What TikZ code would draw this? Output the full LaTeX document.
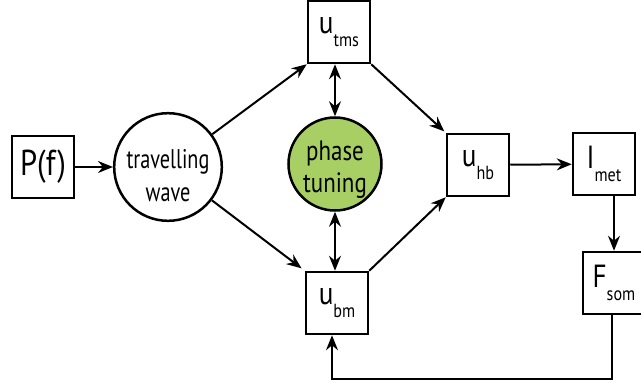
\documentclass[tikz,border=0pt]{standalone}
\usepackage{fontspec}
\setmainfont{PT Sans}[FakeStretch=0.85]
\newfontfamily\estrecha{PT Sans}[FakeStretch=0.75]
\newfontfamily\media{PT Sans}[FakeStretch=0.82]
\usetikzlibrary{arrows.meta}

\definecolor{verde}{RGB}{167,207,100}
\newcommand{\usub}[2]{#1\raisebox{-0.4em}{\fontsize{19}{19}\selectfont #2}}

\tikzset{
    caja/.style={draw, line width=2.5pt, minimum width=62pt, minimum height=62pt,
        inner sep=0pt, font=\fontsize{32}{32}\selectfont},
    circulo/.style={circle, draw, line width=2.5pt, minimum size=92pt, inner sep=0pt,
        align=center, font=\estrecha\fontsize{27}{33}\selectfont},
    punta/.tip={Stealth[length=15pt, width=12pt, inset=5pt]},
    flecha/.style={-punta, line width=2pt},
    doble/.style={punta-punta, line width=2pt},
}

\begin{document}
\begin{tikzpicture}[x=1pt, y=-1pt]
    \useasboundingbox (0,0) rectangle (641,383);

    % Nodos
    \node[caja, font=\fontsize{36}{36}\selectfont] (Pf) at (43,167) {P(f)};
    \node[circulo] (onda) at (168,167) {\rule{0pt}{36pt}travelling\\wave};
    \node[circulo, fill=verde, font=\media\fontsize{28}{32}\selectfont] (fase) at (335,164)
        {\rule{0pt}{30pt}phase\\tuning};
    \node[caja] (utms) at (339,32) {\usub{u}{tms}};
    \node[caja] (ubm) at (337,303) {\usub{u}{bm}};
    \node[caja] (uhb) at (478,165) {\usub{u}{hb}};
    \node[caja] (Imet) at (604,164) {\usub{I}{met}};
    \node[caja] (Fsom) at (614,283) {\usub{F}{som}};

    % Flechas
    \draw[flecha] (Pf) -- (onda);
    \draw[flecha] (onda) -- (utms.south west);
    \draw[flecha, shorten >=4pt] (onda) -- (ubm.north west);
    \draw[flecha, shorten >=2pt] (utms.south east) -- (uhb.north west);
    \draw[flecha] (ubm.north east) -- (uhb.south west);
    \draw[flecha] (uhb) -- (Imet);
    \draw[flecha] (Fsom |- Imet.south) -- (Fsom.north);
    \draw[doble] (utms.south -| fase) -- (fase);
    \draw[doble] (fase) -- (fase |- ubm.north);

    % Retroalimentacion
    \draw[flecha] ([xshift=-2pt]Fsom.south) -- ++(0,64) -| ([xshift=-5pt]ubm.south);
\end{tikzpicture}
\end{document}
